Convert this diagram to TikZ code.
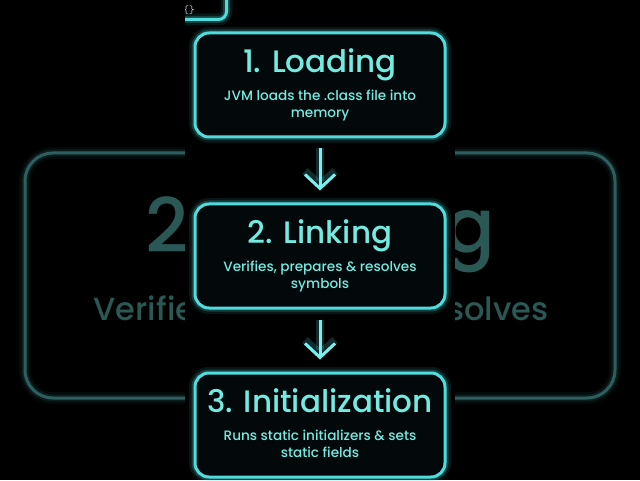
\documentclass[tikz,border=0pt]{standalone}
\usepackage{fontspec}
\setmainfont{Poppins}
\newfontfamily\titlefont{Poppins Medium}
\usetikzlibrary{arrows.meta,positioning}
\definecolor{neon}{RGB}{80,220,220}
\definecolor{neonline}{RGB}{120,240,240}
\definecolor{neontext}{RGB}{115,235,225}
\definecolor{dimteal}{RGB}{45,95,95}
\definecolor{dimtext}{RGB}{42,88,84}
\definecolor{boxfill}{RGB}{3,8,10}
\definecolor{codetext}{RGB}{170,215,215}

\tikzset{
  glow/.style={preaction={draw=#1, line width=12pt, opacity=0.10},
               preaction={draw=#1, line width=7pt, opacity=0.22}},
  stage/.style={draw=neon, line width=3pt, rounded corners=14pt, fill=boxfill,
                minimum width=250pt, minimum height=104pt, inner sep=0pt, glow=neon},
  titletxt/.style={text=neontext, anchor=base, inner sep=0pt,
                   font=\titlefont\fontsize{31}{31}\selectfont},
  bodytxt/.style={text=neontext, anchor=base, inner sep=0pt,
                  font=\titlefont\fontsize{13.6}{13.6}\selectfont},
  flow/.style={draw=neonline, line width=3pt, -{Straight Barb[length=14pt, width=30pt]},
               preaction={draw=neon, line width=8pt, opacity=0.2},
               shorten <=10pt, shorten >=12pt},
}

\begin{document}
\begin{tikzpicture}[x=1pt, y=1pt]
%frame
	\fill[black] (0,0) rectangle (640,480);
	\useasboundingbox (0,0) rectangle (640,480);

%blurred backdrop
	\draw[dimteal, line width=3pt, rounded corners=28pt, glow=dimteal] (25,327) rectangle (615,82);
	\node[text=dimtext, anchor=base, inner sep=0pt, font=\titlefont\fontsize{75}{75}\selectfont] (bigtitle) at (320,227) {2. Linking};
	\node[text=dimtext, anchor=base, inner sep=0pt, font=\titlefont\fontsize{32}{32}\selectfont] (bigbody) at (321,160) {Verifies, prepares \& resolves};

%middle strip
	\fill[black] (185,0) rectangle (455,480);

	\begin{scope}
		\clip (185,0) rectangle (455,480);
		\node[draw=neon, line width=3pt, rounded corners=8pt, minimum width=100pt, minimum height=40pt,
		      anchor=south east, glow=neon] (code) at (228,459) {};
		\node[text=codetext, anchor=east, inner sep=0pt, font=\ttfamily\fontsize{11}{11}\selectfont] (brace) at (195,470) {\{\}};

%stages
		\foreach \name/\y/\ttl/\la/\lb in {
			load/395/{1. Loading}/{JVM loads the .class file into}/{memory},
			link/224/{2. Linking}/{Verifies, prepares \& resolves}/{symbols},
			init/55/{3. Initialization}/{Runs static initializers \& sets}/{static fields}} {
			\node[stage] (\name) at (320,\y) {};
			\node[titletxt] (\name-t) at ([yshift=-41pt]\name.north) {\ttl};
			\node[bodytxt] (\name-a) at ([yshift=-69pt]\name.north) {\la};
			\node[bodytxt] (\name-b) at ([yshift=-86pt]\name.north) {\lb};
		}

%arrows
		\draw[flow] (load.south) -- (link.north);
		\draw[flow] (link.south) -- (init.north);
	\end{scope}
\end{tikzpicture}
\end{document}
